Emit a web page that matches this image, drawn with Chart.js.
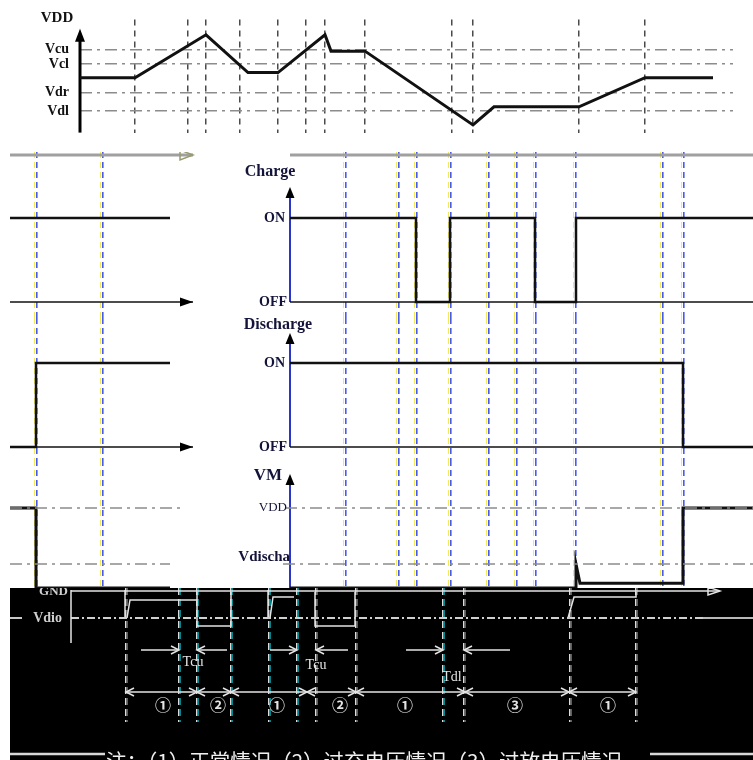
<!DOCTYPE html>
<html>
<head>
<meta charset="utf-8">
<script src="https://cdn.jsdelivr.net/npm/chart.js@4.4.1/dist/chart.umd.min.js"></script>
<style>
  body { margin: 0; background: #fff; }
  #wrap { position: relative; width: 753px; height: 760px; overflow: hidden; }
  canvas { position: absolute; left: 0; }
</style>
</head>
<body>
<div id="wrap">
  <canvas id="vdd" width="753" height="152" style="top:0"></canvas>
  <canvas id="charge" width="753" height="166" style="top:152px"></canvas>
  <canvas id="discharge" width="753" height="142" style="top:318px"></canvas>
  <canvas id="vm" width="753" height="128" style="top:460px"></canvas>
  <canvas id="notes" width="753" height="172" style="top:588px"></canvas>
</div>
<script>
// Event times shared by every panel (dashed verticals)
const eventTimes = [135, 188, 206, 240, 278, 306, 325, 365, 452, 473, 579, 645];

// VDD panel
const levelNames = ['Vcu', 'Vcl', 'Vdr', 'Vdl'];
const levelValues = [97, 80, 47, 25];
const vddTimes = [80, 135, 206, 248, 278, 325, 331, 365, 473, 494, 579, 645, 713];
const vddValues = [64, 64, 114, 70, 70, 114, 95, 95, 9, 30, 30, 64, 64];

// Charge / Discharge switch states (1 = ON, 0 = OFF)
const chargeTimes = [80, 206, 206, 240, 240, 325, 325, 366, 366, 713];
const chargeStates = [1, 1, 0, 0, 1, 1, 0, 0, 1, 1];
const dischargeTimes = [80, 473, 473, 579, 579, 713];
const dischargeStates = [1, 1, 0, 0, 1, 1];

// VM pin (VDD = 1)
const vmTimes = [80, 366, 366, 370, 473, 473, 579, 579, 713];
const vmValues = [0, 0, 0.3, 0.06, 0.06, 1, 1, 0, 0];
const vmLevelNames = ['VDD', 'Vdischa'];
const vmLevelValues = [1, 0.3];

// Bottom strip: delays, states, caption
const delayLabels = ['Tcu', 'Tcu', 'Tdl'];
const delayEdges = [[188, 206], [306, 325], [452, 473]];
const delayTails = [[150, 236], [279, 357], [415, 519]];
const delayLabelTimes = [202, 325, 461];
const stateBounds = [135, 206, 240, 316, 365, 474, 578, 645];
const stateLabels = ['①', '②', '①', '②', '①', '③', '①'];
const stateLabelTimes = [172, 227, 286, 349, 414, 524, 617];
const caption = '注：（1）正常情况（2）过充电压情况（3）过放电压情况';

// lower panels are shifted and wrap round the right edge
const PAGE_W = 753, SHIFT = 210, WRAP_END = 543, WRAP_START = 553;
const wrapX = t => t <= WRAP_END ? t + SHIFT : t - (PAGE_W - SHIFT);

Chart.defaults.font.family = 'Liberation Serif';

const pts = (ts, vs) => ts.map((t, i) => ({ x: t, y: vs[i] }));

function line(data, color, width, dash) {
  return {
    data, showLine: true, borderColor: color, borderWidth: width,
    borderDash: dash || [], pointRadius: 0, fill: false, tension: 0, clip: false
  };
}

function clipRun(ts, vs, lo, hi) {
  const out = [];
  for (let i = 0; i < ts.length; i++) {
    if (ts[i] >= lo && ts[i] <= hi) out.push({ t: ts[i], v: vs[i] });
    if (i + 1 < ts.length) {
      const a = ts[i], b = ts[i + 1];
      [lo, hi].forEach(c => {
        if (a < c && b > c) out.push({ t: c, v: vs[i] + (vs[i + 1] - vs[i]) * (c - a) / (b - a) });
      });
    }
  }
  return out;
}

function wrappedSets(ts, vs, color, width, dash) {
  const right = clipRun(ts, vs, -Infinity, WRAP_END).map(p => ({ x: wrapX(p.t), y: p.v }));
  const left = clipRun(ts, vs, WRAP_START, Infinity).map(p => ({ x: wrapX(p.t), y: p.v }));
  return [right, left].filter(d => d.length > 1).map(d => line(d, color, width, dash));
}

// arrowheads, labels and background
function decor(cfg) {
  return {
    id: 'decor',
    beforeDraw(chart) {
      if (!cfg.background) return;
      const ctx = chart.ctx;
      ctx.save();
      ctx.fillStyle = cfg.background;
      ctx.fillRect(cfg.backgroundLeft || 0, 0, chart.width, chart.height);
      ctx.restore();
    },
    afterDatasetsDraw(chart) {
      const { ctx, scales: { x, y } } = chart;
      const angles = { right: 0, left: Math.PI, up: -Math.PI / 2, down: Math.PI / 2 };
      (cfg.heads || []).forEach(h => {
        const len = h.len || 10, w = h.w || 4;
        ctx.save();
        ctx.translate(x.getPixelForValue(h.x), y.getPixelForValue(h.y));
        ctx.rotate(angles[h.dir]);
        ctx.beginPath();
        ctx.moveTo(-len, -w);
        ctx.lineTo(0, 0);
        ctx.lineTo(-len, w);
        if (h.style !== 'chevron') ctx.closePath();
        ctx.lineWidth = h.lineWidth || 1.5;
        ctx.strokeStyle = ctx.fillStyle = h.color || '#000';
        if (h.style === 'fill') ctx.fill(); else ctx.stroke();
        ctx.restore();
      });
      (cfg.texts || []).forEach(t => {
        ctx.save();
        ctx.font = t.font;
        ctx.fillStyle = t.color || '#111';
        ctx.textAlign = t.align || 'center';
        ctx.textBaseline = t.baseline || 'middle';
        ctx.fillText(t.text, x.getPixelForValue(t.x), y.getPixelForValue(t.y));
        ctx.restore();
      });
    }
  };
}

function makeChart(id, datasets, scales, deco, padding) {
  return new Chart(document.getElementById(id), {
    type: 'scatter',
    data: { datasets },
    options: {
      responsive: false,
      animation: false,
      events: [],
      layout: { padding: padding || 0 },
      plugins: { legend: { display: false }, tooltip: { enabled: false } },
      scales
    },
    plugins: [decor(deco)]
  });
}

function lowerX(color, offset, width, z) {
  return {
    type: 'linear', min: 0, max: PAGE_W, position: 'bottom', z,
    afterBuildTicks: s => { s.ticks = eventTimes.map(t => ({ value: wrapX(t) + offset })); },
    afterFit: s => { s.height = 0; },
    ticks: { display: false },
    grid: { color, lineWidth: width, drawTicks: false },
    border: { display: false, dash: [6, 4] }
  };
}

const NAVY = '#14143a';
const AXIS_BLUE = '#2a36c8';
const LEVEL_DASH = [12, 5, 3, 5];
const boldSerif = s => `bold ${s}px "Liberation Serif"`;
const lowerScales = (min, max) => ({
  x2: lowerX('rgba(240,230,60,0.85)', -1.2, 1, -1),
  x: lowerX('rgba(60,80,240,0.95)', 0.3, 1.6, 0),
  y: { type: 'linear', display: false, min, max }
});

// ---- VDD panel
makeChart('vdd', [
  line(pts(vddTimes, vddValues), '#111', 3),
  line(pts([80, 80], [0, 110]), '#000', 3)
], {
  x: {
    type: 'linear', min: 80, max: 733,
    afterBuildTicks: s => { s.ticks = eventTimes.map(v => ({ value: v })); },
    afterFit: s => { s.height = 0; },
    ticks: { display: false },
    grid: { color: '#4a4a4a', lineWidth: 1.5, drawTicks: false },
    border: { display: false, dash: [6, 5] }
  },
  y: {
    type: 'linear', min: 0, max: 132,
    afterBuildTicks: s => { s.ticks = levelValues.map(v => ({ value: v })); },
    afterFit: s => { s.width = 80; },
    ticks: {
      callback: v => levelNames[levelValues.indexOf(v)],
      font: { size: 14, weight: 'bold' }, color: '#111', padding: 11
    },
    grid: { color: '#8c8c8c', lineWidth: 1.5, drawTicks: false },
    border: { display: false, dash: LEVEL_DASH }
  }
}, {
  heads: [{ x: 80, y: 121, dir: 'up', style: 'fill', len: 13, w: 5 }],
  texts: [{ x: 57, y: 134, text: 'VDD', font: boldSerif(15) }]
}, { top: 15, right: 20, bottom: 5 });

// ---- Charge panel
makeChart('charge', [
  ...wrappedSets([80, 736], [1.75, 1.75], '#a0a0a0', 3),
  ...wrappedSets([80, 736], [0, 0], '#111', 1.5),
  ...wrappedSets(chargeTimes, chargeStates, '#111', 2.5),
  line([{ x: wrapX(80), y: 0 }, { x: wrapX(80), y: 1.3 }], AXIS_BLUE, 2)
], lowerScales(-0.1905, 1.7857), {
  heads: [
    { x: wrapX(80), y: 1.369, dir: 'up', style: 'fill', len: 11, w: 4.5 },
    { x: wrapX(736), y: 0, dir: 'right', style: 'fill', len: 13, w: 4.5 },
    { x: wrapX(736), y: 1.75, dir: 'right', style: 'open', len: 13, w: 5, color: '#9a9a70' }
  ],
  texts: [
    { x: wrapX(60), y: 1.548, text: 'Charge', font: boldSerif(16), color: NAVY },
    { x: wrapX(75), y: 1, text: 'ON', font: boldSerif(14), color: NAVY, align: 'right' },
    { x: wrapX(77), y: 0, text: 'OFF', font: boldSerif(14), color: NAVY, align: 'right' }
  ]
});

// ---- Discharge panel
makeChart('discharge', [
  ...wrappedSets([80, 736], [0, 0], '#111', 1.5),
  ...wrappedSets(dischargeTimes, dischargeStates, '#111', 2.5),
  line([{ x: wrapX(80), y: 0 }, { x: wrapX(80), y: 1.28 }], AXIS_BLUE, 2)
], lowerScales(-0.1548, 1.5357), {
  heads: [
    { x: wrapX(80), y: 1.357, dir: 'up', style: 'fill', len: 11, w: 4.5 },
    { x: wrapX(736), y: 0, dir: 'right', style: 'fill', len: 13, w: 4.5 }
  ],
  texts: [
    { x: wrapX(68), y: 1.452, text: 'Discharge', font: boldSerif(16), color: NAVY },
    { x: wrapX(75), y: 1, text: 'ON', font: boldSerif(14), color: NAVY, align: 'right' },
    { x: wrapX(77), y: 0, text: 'OFF', font: boldSerif(14), color: NAVY, align: 'right' }
  ]
});

// ---- VM panel
makeChart('vm', [
  ...wrappedSets([75, 723], [vmLevelValues[0], vmLevelValues[0]], '#8c8c8c', 1.5, LEVEL_DASH),
  ...wrappedSets([73, 713], [vmLevelValues[1], vmLevelValues[1]], '#8c8c8c', 1.5, LEVEL_DASH),
  ...wrappedSets(vmTimes, vmValues, '#111', 3),
  line([{ x: wrapX(80), y: 0 }, { x: wrapX(80), y: 1.35 }], AXIS_BLUE, 2)
], lowerScales(0, 1.6), {
  heads: [{ x: wrapX(80), y: 1.425, dir: 'up', style: 'fill', len: 11, w: 4.5 }],
  texts: [
    { x: wrapX(58), y: 1.4, text: 'VM', font: boldSerif(17), color: NAVY },
    { x: wrapX(77), y: vmLevelValues[0], text: vmLevelNames[0], font: '13px "Liberation Serif"', color: NAVY, align: 'right' },
    { x: wrapX(80), y: 0.3875, text: vmLevelNames[1], font: boldSerif(15), color: NAVY, align: 'right' }
  ]
});

// ---- bottom annotation strip (inverted, white on black)
const WHITE = '#e4e4e4';
const pulseOutlines = [
  [[134, 134], [2, 30]],
  [[136, 139, 205], [30, 12, 12]],
  [[206, 206, 240, 240], [4, 38, 38, 4]],
  [[277, 277], [2, 30]],
  [[279, 282, 303], [30, 9, 9]],
  [[324, 324, 364, 364], [4, 38, 38, 4]],
  [[577, 583, 645, 645], [30, 9, 9, 4]]
];
const noteSets = [
  line(pts([80, 726], [3, 3]), WHITE, 1.5),
  line(pts([80, 80], [2, 55]), WHITE, 1.5),
  line(pts([80, 714], [30, 30]), '#d0d0d0', 2, [8, 3, 2, 3]),
  line(pts([19, 31], [30, 30]), '#c8c8c8', 2),
  line(pts([712, 762], [30, 30]), '#b8b8b8', 2),
  ...pulseOutlines.map(p => line(pts(p[0], p[1]), WHITE, 1.5)),
  line(pts([stateBounds[0], stateBounds[stateBounds.length - 1]], [104, 104]), WHITE, 1.5),
  line(pts([19, 114], [166, 166]), '#d8d8d8', 2.5),
  line(pts([659, 762], [166, 166]), '#d8d8d8', 2.5)
];
const noteHeads = [{ x: 729, y: 3, dir: 'right', style: 'open', len: 12, w: 4, color: WHITE }];
delayEdges.forEach((e, i) => {
  noteSets.push(line(pts([delayTails[i][0], e[0]], [62, 62]), WHITE, 1.5));
  noteSets.push(line(pts([delayTails[i][1], e[1]], [62, 62]), WHITE, 1.5));
  noteHeads.push({ x: e[0], y: 62, dir: 'right', style: 'chevron', len: 8, w: 4, color: WHITE });
  noteHeads.push({ x: e[1], y: 62, dir: 'left', style: 'chevron', len: 8, w: 4, color: WHITE });
});
stateBounds.forEach((b, i) => {
  if (i > 0) noteHeads.push({ x: b, y: 104, dir: 'right', style: 'chevron', len: 8, w: 4, color: WHITE });
  if (i < stateBounds.length - 1) noteHeads.push({ x: b, y: 104, dir: 'left', style: 'chevron', len: 8, w: 4, color: WHITE });
});
const noteTexts = [
  { x: 77, y: 4, text: 'GND', font: boldSerif(13), color: '#cfcfcf', align: 'right' },
  { x: 71, y: 30, text: 'Vdio', font: boldSerif(14), color: '#cfcfcf', align: 'right' },
  ...delayLabels.map((s, i) => ({ x: delayLabelTimes[i], y: [74, 77, 89][i], text: s, font: '14px "Liberation Serif"', color: WHITE })),
  ...stateLabels.map((s, i) => ({ x: stateLabelTimes[i], y: 117, text: s, font: 'bold 16px "Noto Sans CJK SC"', color: WHITE })),
  { x: 115, y: 163, text: caption, font: '20.5px "Noto Sans CJK SC"', color: '#f0f0f0', align: 'left', baseline: 'top' }
];

makeChart('notes', noteSets, {
  x2: {
    type: 'linear', min: 9, max: 762, z: -1,
    afterBuildTicks: s => { s.ticks = eventTimes.map(v => ({ value: v + 1.5 })); },
    afterFit: s => { s.height = 0; },
    ticks: { display: false },
    grid: { color: 'rgba(0,190,200,0.7)', lineWidth: 1, drawTicks: false },
    border: { display: false, dash: [7, 4] }
  },
  x: {
    type: 'linear', min: 9, max: 762,
    afterBuildTicks: s => { s.ticks = eventTimes.map(v => ({ value: v })); },
    afterFit: s => { s.height = 0; },
    ticks: { display: false },
    grid: { color: '#dcdcdc', lineWidth: 1.5, drawTicks: false },
    border: { display: false, dash: [7, 4] }
  },
  y: { type: 'linear', display: false, min: 0, max: 134, reverse: true }
}, {
  background: '#000', backgroundLeft: 10,
  heads: noteHeads,
  texts: noteTexts
}, { top: 0, bottom: 38 });
</script>
</body>
</html>
